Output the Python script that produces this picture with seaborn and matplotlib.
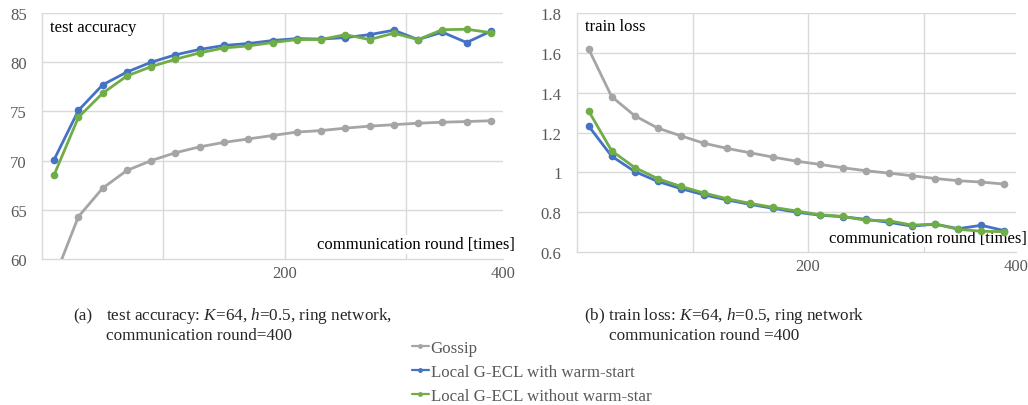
import numpy as np
import pandas as pd
import matplotlib
matplotlib.use("Agg")
import matplotlib.pyplot as plt
import seaborn as sns

# ---------------- data ----------------
rounds = [20, 40, 60, 80, 100, 120, 140, 160, 180, 200,
          220, 240, 260, 280, 300, 320, 340, 360, 380]
series_names = ["Gossip", "Local G-ECL with warm-start", "Local G-ECL without warm-star"]

acc_gossip = [58.0, 64.3, 67.2, 69.0, 70.0, 70.8, 71.4, 71.85, 72.2, 72.55,
              72.9, 73.05, 73.3, 73.5, 73.65, 73.8, 73.9, 73.97, 74.05]
acc_warm = [70.1, 75.1, 77.7, 79.0, 80.0, 80.75, 81.3, 81.7, 81.9, 82.2,
            82.4, 82.35, 82.5, 82.8, 83.25, 82.3, 83.05, 82.0, 83.15]
acc_nowarm = [68.55, 74.4, 76.85, 78.6, 79.55, 80.3, 80.95, 81.45, 81.65, 82.0,
              82.3, 82.3, 82.8, 82.3, 82.95, 82.3, 83.3, 83.35, 83.0]

loss_gossip = [1.62, 1.38, 1.284, 1.222, 1.183, 1.146, 1.12, 1.098, 1.076, 1.056,
               1.04, 1.023, 1.008, 0.996, 0.983, 0.969, 0.958, 0.951, 0.941]
loss_warm = [1.233, 1.081, 1.004, 0.954, 0.918, 0.887, 0.861, 0.839, 0.819, 0.800,
             0.785, 0.777, 0.764, 0.749, 0.730, 0.740, 0.717, 0.734, 0.707]
loss_nowarm = [1.309, 1.108, 1.024, 0.968, 0.929, 0.896, 0.867, 0.844, 0.824, 0.806,
               0.787, 0.779, 0.759, 0.757, 0.735, 0.740, 0.714, 0.704, 0.702]

acc_yticks = [60, 65, 70, 75, 80, 85]
loss_yticks = [0.6, 0.8, 1.0, 1.2, 1.4, 1.6, 1.8]
loss_yticklabels = ["0.6", "0.8", "1", "1.2", "1.4", "1.6", "1.8"]
x_labels = ["200", "400"]

colors = ["#A5A5A5", "#4472C4", "#70AD47"]

# ---------------- style ----------------
sns.set_theme(style="white")
plt.rcParams["font.family"] = ["Liberation Serif", "DejaVu Serif"]
plt.rcParams["mathtext.fontset"] = "custom"
plt.rcParams["mathtext.rm"] = "Liberation Serif"
plt.rcParams["mathtext.it"] = "Liberation Serif:italic"

GRID = "#D9D9D9"
TICK = "#595959"
FS = 12


def long_df(a, b, c):
    return pd.DataFrame({
        "round": rounds * 3,
        "value": list(a) + list(b) + list(c),
        "series": [series_names[0]] * len(rounds) + [series_names[1]] * len(rounds)
                  + [series_names[2]] * len(rounds),
    })


fig = plt.figure(figsize=(10.28, 4.06), dpi=100)
W, H = 1028, 406


def px_axes(x0, x1, y0, y1):
    return fig.add_axes([x0 / W, (H - y1) / H, (x1 - x0) / W, (y1 - y0) / H])


ax1 = px_axes(42, 503, 14, 260)
ax2 = px_axes(577, 1016, 14, 253)


def style_axes(ax, df, yticks, ylabels, ylim, title, title_box):
    sns.lineplot(data=df, x="round", y="value", hue="series", palette=colors,
                 marker="o", markersize=5.5, markeredgewidth=0, linewidth=2.0,
                 ax=ax, legend=True, zorder=5, clip_on=True)
    ax.set_xlim(10, 390)
    ax.set_ylim(*ylim)
    ax.set_yticks(yticks)
    ax.set_yticklabels(ylabels)
    ax.set_xticks([210, 390])
    ax.set_xticklabels(x_labels)
    for xv in [110, 210, 310]:
        ax.axvline(xv, color=GRID, lw=1.0, zorder=1)
    for yv in yticks[1:]:
        ax.axhline(yv, color=GRID, lw=1.0, zorder=1)
    ax.tick_params(axis="both", length=0, labelsize=FS, labelcolor=TICK)
    ax.tick_params(axis="y", pad=11)
    ax.tick_params(axis="x", pad=4)
    for s in ["top", "right"]:
        ax.spines[s].set_visible(False)
    for s in ["left", "bottom"]:
        ax.spines[s].set_color(GRID)
        ax.spines[s].set_linewidth(1.0)
        ax.spines[s].set_zorder(1)
    ax.set_xlabel("")
    ax.set_ylabel("")
    bbox = dict(facecolor="white", edgecolor="none", pad=2) if title_box else None
    ax.text(0.018, 0.945, title, transform=ax.transAxes, fontsize=FS,
            ha="left", va="center", color="black", zorder=3, bbox=bbox)
    ax.text(1.025, 0.06, "communication round [times]", transform=ax.transAxes,
            fontsize=FS, ha="right", va="center", color="black", zorder=3,
            bbox=dict(facecolor="white", edgecolor="none", pad=1))
    leg = ax.get_legend()
    handles = leg.legend_handles
    leg.remove()
    return handles


h1 = style_axes(ax1, long_df(acc_gossip, acc_warm, acc_nowarm), acc_yticks,
                [str(v) for v in acc_yticks], (60, 85), "test accuracy", True)
h2 = style_axes(ax2, long_df(loss_gossip, loss_warm, loss_nowarm), loss_yticks,
                loss_yticklabels, (0.6, 1.8), "train loss", False)

# ---------------- captions ----------------
def fy(y):
    return (H - y) / H

CFS = 12.3
fig.text(73 / W, fy(316), "(a)", fontsize=CFS, ha="left", va="center")
fig.text(106 / W, fy(316), r"test accuracy: $K$=64, $h$=0.5, ring network,",
         fontsize=CFS, ha="left", va="center")
fig.text(106 / W, fy(336), "communication round=400", fontsize=CFS, ha="left", va="center")

fig.text(584 / W, fy(316), r"(b) train loss: $K$=64, $h$=0.5, ring network",
         fontsize=CFS, ha="left", va="center")
fig.text(609 / W, fy(336), "communication round =400", fontsize=CFS, ha="left", va="center")

# ---------------- legend ----------------
leg = fig.legend(handles=h1, labels=series_names, loc="upper left",
                 bbox_to_anchor=(412 / W, fy(341)), frameon=False,
                 fontsize=12.2, handlelength=1.0, handletextpad=0.1,
                 labelspacing=0.46, borderpad=0, borderaxespad=0)
for t in leg.get_texts():
    t.set_color(TICK)
for lh in leg.legend_handles:
    lh.set_markersize(3.5)
    lh.set_linewidth(1.6)

fig.savefig("out.png", dpi=100)
